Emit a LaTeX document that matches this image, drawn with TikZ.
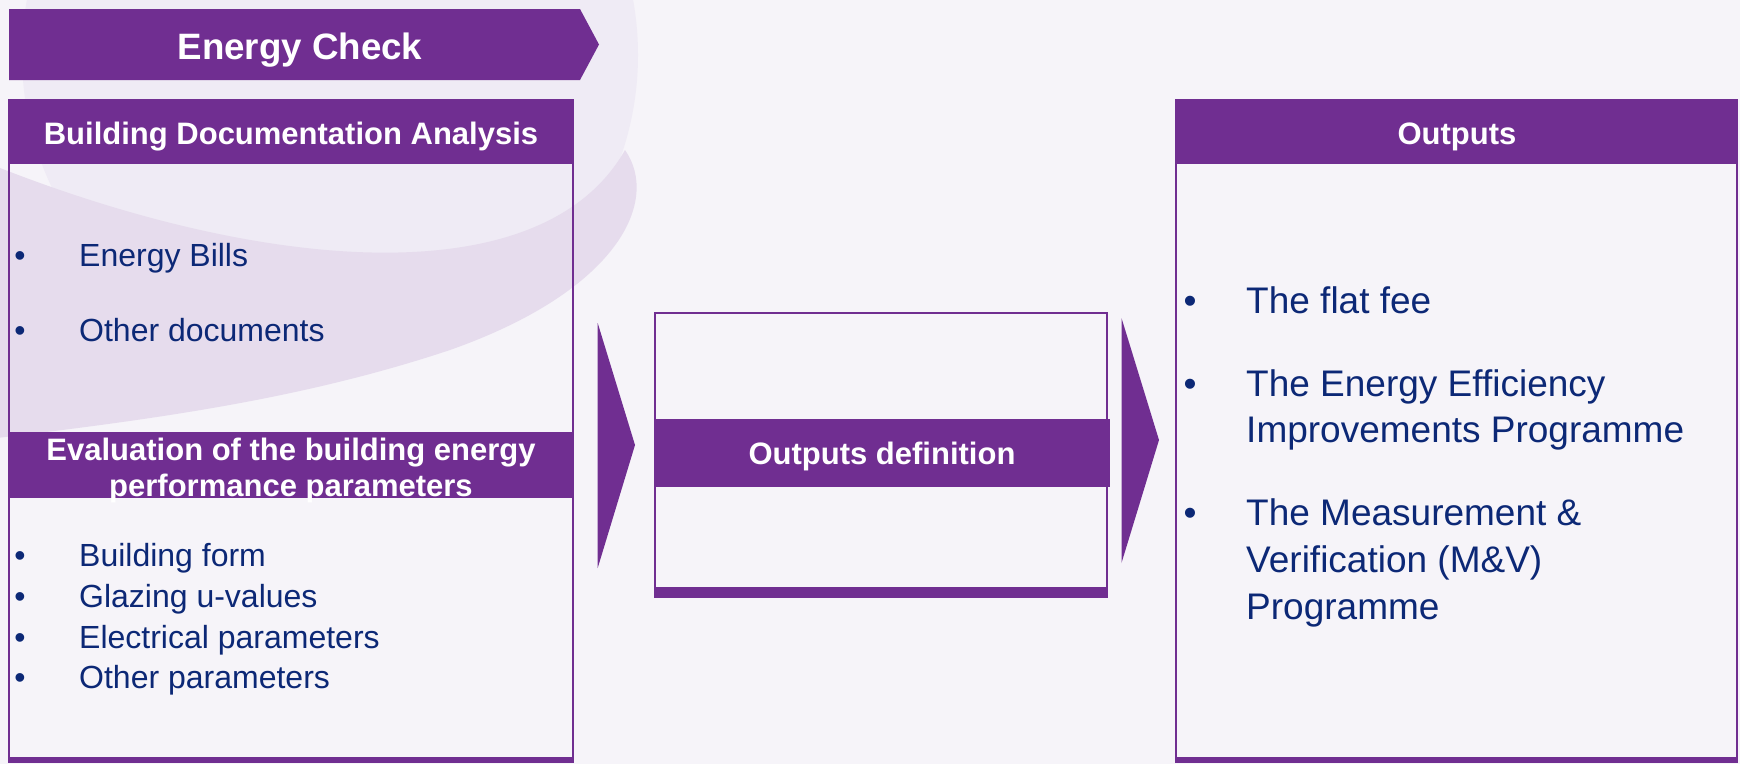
\documentclass[tikz,border=0pt]{standalone}
\usepackage{fontspec}
\setmainfont{Liberation Sans}

\definecolor{ecpurple}{RGB}{112,46,145}
\definecolor{ecnavy}{RGB}{12,40,118}
\definecolor{ecback}{RGB}{246,244,249}
\definecolor{ecring}{RGB}{239,235,245}
\definecolor{ecswoosh}{RGB}{230,220,237}

\begin{document}
\begin{tikzpicture}[x=1pt,y=-1pt,line join=miter]
  \tikzstyle{panel}=[draw=ecpurple,line width=2.5pt,inner sep=0pt,outer sep=0pt,anchor=north west]
  \tikzstyle{band}=[fill=ecpurple,draw=none]
  \tikzstyle{head}=[text=white,inner sep=0pt,font=\bfseries\fontsize{31}{36}\selectfont]
  \tikzstyle{oneline}=[text height=22.2pt,text depth=0pt]
  \tikzstyle{small}=[text=ecnavy,inner sep=0pt,font=\fontsize{32}{38}\selectfont,text height=23pt,text depth=0pt]
  \tikzstyle{large}=[text=ecnavy,inner sep=0pt,font=\fontsize{37}{44}\selectfont,text height=26.5pt,text depth=0pt]

  % backdrop
  \useasboundingbox (0,0) rectangle (1740,764);
  \fill[ecback] (0,0) rectangle (1740,764);
  \begin{scope}
    \clip (0,0) rectangle (1740,764);
    \fill[ecring] (330,55) circle[radius=308pt];
    \fill[ecswoosh] (-20,160) .. controls (250,270) and (540,300) .. (625,150)
      .. controls (660,200) and (620,290) .. (450,350)
      .. controls (300,400) and (150,420) .. (-20,440) -- cycle;
  \end{scope}

  % banner
  \fill[ecpurple] (9,9) -- (580,9) -- (599,44.5) -- (580,80) -- (9,80) -- cycle;
  \node[head,font=\bfseries\fontsize{36.7}{44}\selectfont,text height=26.3pt,text depth=0pt] (check) at (300,46) {Energy Check};

  % left panel
  \node[panel,minimum width=564pt,minimum height=662pt] (docs) at (9,100) {};
  \fill[band] (docs.north west) rectangle ++(564,64);
  \fill[band] (9,432) rectangle (573,498);
  \fill[ecpurple] (7.75,757) rectangle (574.25,763);
  \node[head,oneline] (docshead) at (291,133) {Building Documentation Analysis};
  \node[head,align=center] (evalhead) at (291,470) {Evaluation of the building energy\\performance parameters};
  \foreach \y/\txt [count=\i] in {255/Energy Bills,330/Other documents,555/Building form,596/Glazing u-values,637/Electrical parameters,677/Other parameters}{
    \node[small] (db\i) at (20,\y) {\textbullet};
    \node[small,anchor=west] (dt\i) at (79,\y) {\txt};
  }

  \fill[ecpurple] (597.7,323) -- (635,445) -- (597.7,568) -- cycle;

  % middle panel
  \node[panel,minimum width=452pt,minimum height=275pt] (define) at (655,313) {};
  \fill[band] (655,419) rectangle (1110,487);
  \fill[ecpurple] (653.75,587) rectangle (1108.25,598);
  \node[head,oneline] (definehead) at (882,453) {Outputs definition};

  \fill[ecpurple] (1121.5,318) -- (1159,440) -- (1121.5,563) -- cycle;

  % right panel
  \node[panel,minimum width=561pt,minimum height=662pt] (outs) at (1176,100) {};
  \fill[band] (outs.north west) rectangle ++(561,64);
  \fill[ecpurple] (1174.75,757) rectangle (1738.25,763);
  \node[head,oneline] (outshead) at (1457,133) {Outputs};
  \foreach \y [count=\i] in {300,383,512}
    \node[large] (ob\i) at (1190,\y) {\textbullet};
  \foreach \y/\txt [count=\i] in {300/The flat fee,383/The Energy Efficiency,429/Improvements Programme,512/The Measurement \&,559/Verification (M\&V),606/Programme}
    \node[large,anchor=west] (ot\i) at (1246,\y) {\txt};
\end{tikzpicture}
\end{document}
